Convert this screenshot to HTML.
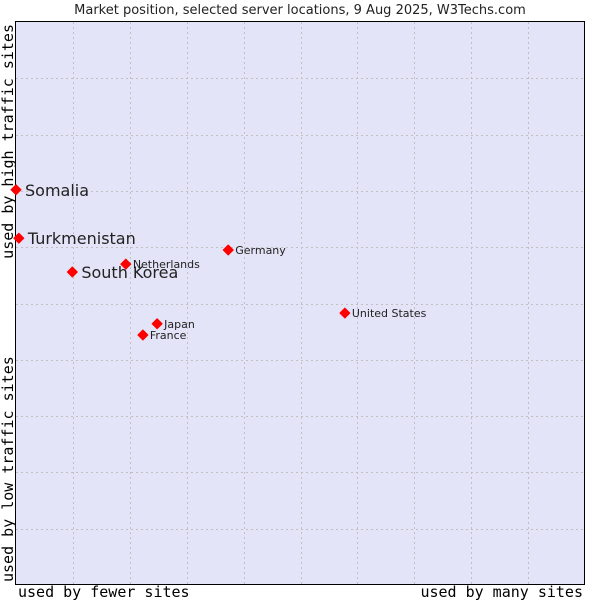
<!DOCTYPE html>
<html><head><meta charset="utf-8"><style>
body{margin:0;background:#fff;width:600px;height:600px;overflow:hidden}
svg{display:block}
</style></head><body>
<svg width="600" height="600" id="chart" font-family="DejaVu Sans, Liberation Sans, sans-serif">
<text x="300" y="14" text-anchor="middle" font-size="13" fill="#222">Market position, selected server locations, 9 Aug 2025, W3Techs.com</text>
<rect x="15.5" y="21.5" width="569" height="563" fill="#e3e4f8" stroke="#000"/>
<g id="grid"></g>
<g id="points"></g>
<text x="18" y="597" font-family="DejaVu Sans Mono, Liberation Mono, monospace" font-size="15" fill="#000">used by fewer sites</text>
<text x="583" y="597" text-anchor="end" font-family="DejaVu Sans Mono, Liberation Mono, monospace" font-size="15" fill="#000">used by many sites</text>
<text transform="translate(13,582) rotate(-90)" font-family="DejaVu Sans Mono, Liberation Mono, monospace" font-size="15" fill="#000">used by low traffic sites</text>
<text transform="translate(13,24) rotate(-90)" text-anchor="end" font-family="DejaVu Sans Mono, Liberation Mono, monospace" font-size="15" fill="#000">used by high traffic sites</text>
</svg>
<script>
const countries=["Somalia","Turkmenistan","South Korea","Netherlands","Germany","United States","Japan","France"];
const xValues=[0,0.5,9.9,19.3,37.3,57.8,24.8,22.3];
const yValues=[70.2,61.6,55.6,57.0,59.5,48.3,46.4,44.4];
const bigLabel=[true,true,true,false,false,false,false,false];
const gridTicks=[10,20,30,40,50,60,70,80,90];
const ns="http://www.w3.org/2000/svg";
const X0=16,X1=585,Y0=585,Y1=22;
const sx=v=>X0+v/100*(X1-X0);
const sy=v=>Y0-v/100*(Y0-Y1);
const grid=document.getElementById('grid');
gridTicks.forEach(t=>{
  const v=document.createElementNS(ns,'line');
  v.setAttribute('x1',Math.round(sx(t))+0.5);v.setAttribute('x2',Math.round(sx(t))+0.5);
  v.setAttribute('y1',Y1);v.setAttribute('y2',Y0);
  v.setAttribute('stroke','#c0c0c0');v.setAttribute('stroke-dasharray','2,3');
  
  
  grid.appendChild(v);
  const h=document.createElementNS(ns,'line');
  h.setAttribute('y1',Math.round(sy(t))+0.5);h.setAttribute('y2',Math.round(sy(t))+0.5);
  h.setAttribute('x1',X0);h.setAttribute('x2',X1);
  h.setAttribute('stroke','#c0c0c0');h.setAttribute('stroke-dasharray','2,3');
  
  
  grid.appendChild(h);
});
const pts=document.getElementById('points');
countries.forEach((c,i)=>{
  const x=sx(xValues[i]),y=sy(yValues[i]);
  const d=document.createElementNS(ns,'polygon');
  d.setAttribute('points',`${x},${y-5} ${x+5},${y} ${x},${y+5} ${x-5},${y}`);
  d.setAttribute('fill','#f00');
  d.setAttribute('stroke','#f00');
  d.setAttribute('stroke-width','1');
  d.setAttribute('stroke-linejoin','round');
  
  
  pts.appendChild(d);
  const t=document.createElementNS(ns,'text');
  t.setAttribute('x',x+(bigLabel[i]?9:7));
  t.setAttribute('y',y+(bigLabel[i]?6:4));
  t.setAttribute('font-size',bigLabel[i]?16:11);
  t.setAttribute('fill','#222');
  t.textContent=c;
  
  
  pts.appendChild(t);
});
</script>
</body></html>
